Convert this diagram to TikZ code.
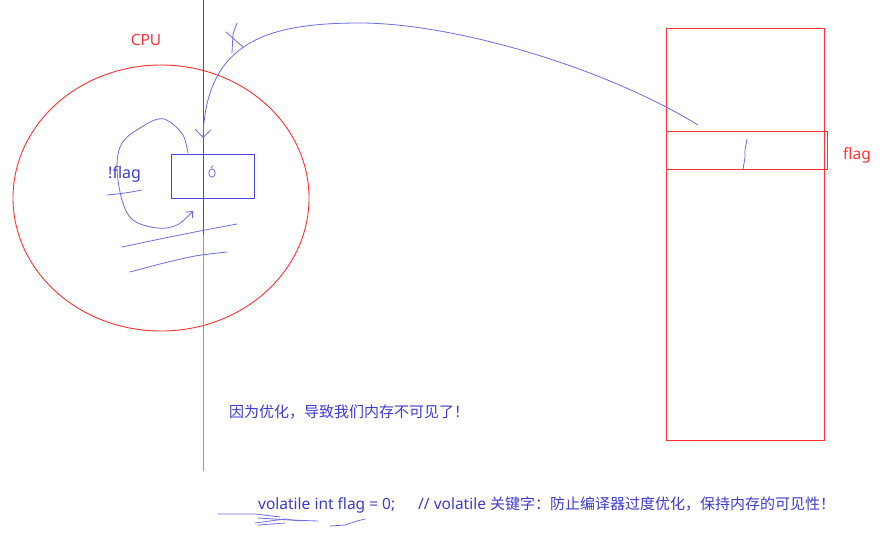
\documentclass[tikz,border=0pt]{standalone}
\usepackage{fontspec}
\newfontfamily\cjk{Noto Sans CJK SC}
\newfontfamily\lat{Noto Sans}
\usetikzlibrary{arrows.meta,shapes.geometric}
\definecolor{penblue}{RGB}{72,72,220}
\definecolor{txtblue}{RGB}{60,60,205}
\definecolor{penred}{RGB}{255,50,50}
\tikzset{
  pen/.style={draw=penblue, line width=0.9pt, line cap=round, line join=round},
  thinpen/.style={draw=penblue!80, line width=0.8pt, line cap=round, line join=round},
  redpen/.style={draw=penred, line width=0.9pt},
  bluetext/.style={text=txtblue, font=\cjk\fontsize{15}{18}\selectfont, inner sep=0pt, anchor=west},
  redtext/.style={text=penred, font=\lat\fontsize{15.5}{18}\selectfont, inner sep=0pt},
  barb/.style={-{Straight Barb[length=8pt,width=16pt]}},
  smallbarb/.style={-{Straight Barb[length=5pt,width=9pt]}}
}
\begin{document}
\begin{tikzpicture}[x=1pt,y=-1pt]
\useasboundingbox (0,0) rectangle (885,533);
\fill[white] (0,0) rectangle (885,533);

% CPU ellipse and label
\node[redpen, ellipse, draw, minimum width=296pt, minimum height=266pt, inner sep=0pt] (cpu) at (161,198) {};
\node[redtext] (cpulabel) at (146,40) {CPU};

% vertical divider
\coordinate (vtop) at (203,0);
\coordinate (vmid) at (203,235);
\coordinate (vbot) at (203,471);
\draw[pen] (vtop) -- (vmid);
\draw[pen, draw=penblue!60] (vmid) -- (vbot);

% register box
\node[draw=penblue, line width=0.8pt, minimum width=83pt, minimum height=44pt, inner sep=0pt, anchor=north west] (reg) at (171,154) {};
\draw[thinpen] (212,173) ellipse (3.2 and 4.2);
\draw[thinpen] (211,167.5) -- (213,166);

% !flag text and scribbles
\node[bluetext, font=\lat\fontsize{16}{18}\selectfont] (notflag) at (108,174) {!flag};
\draw[thinpen] plot[smooth] coordinates {(107,195) (125,193) (142,190)};
\draw[thinpen] plot[smooth] coordinates {(122,247) (160,239) (200,231) (237,224)};
\draw[thinpen] plot[smooth] coordinates {(130,272) (160,264) (195,256) (227,252)};

% loop arrow
\coordinate (loopstart) at (188,153);
\coordinate (loopend) at (193,211);
\draw[thinpen, smallbarb] plot[smooth, tension=0.6] coordinates {(loopstart) (183,135) (170,122) (158,119) (140,128) (122,143) (117,167) (122,200) (133,220) (157,228) (177,225) (loopend)};

% memory
\node[redpen, draw, minimum width=158pt, minimum height=412pt, inner sep=0pt, anchor=north west] (mem) at (666,28) {};
\node[redpen, draw, minimum width=161pt, minimum height=38pt, inner sep=0pt, anchor=north west] (slot) at (666,131) {};
\node[redtext] (flaglabel) at (857,155) {flag};
\draw[thinpen] plot[smooth] coordinates {(747,139) (745,150) (745,157) (743,169)};

% big curve from memory to register
\coordinate (from) at (698,125);
\coordinate (to) at (203,138);
\coordinate (peak) at (360,23);
\draw[thinpen, barb] (from) .. controls (600,65) and (450,23) .. (peak) .. controls (270,23) and (206,40) .. (to);
% crossing strokes
\draw[thinpen] (226,32) -- (243,47);
\draw[thinpen] (237,23) -- (233,34) -- (232,53);

% messages
\node[bluetext] (msg1) at (229,412) {因为优化，导致我们内存不可见了！};
\node[bluetext] (msg2) at (258,505) {\makebox[160pt][l]{\lat\fontsize{15.5}{18}\selectfont volatile int flag = 0;}{\lat\fontsize{15.5}{18}\selectfont // volatile }关键字：防止编译器过度优化，保持内存的可见性！};

% bottom scribbles
\draw[thinpen] (218,514) -- (255,514) -- (280,517);
\draw[thinpen] (258,518) -- (290,520) -- (318,521);
\draw[thinpen] (255,523) -- (285,519) -- (300,521);
\draw[thinpen] (258,525) -- (285,523);
\draw[thinpen] (330,526) -- (345,525) -- (357,521) -- (365,519);
\end{tikzpicture}
\end{document}
